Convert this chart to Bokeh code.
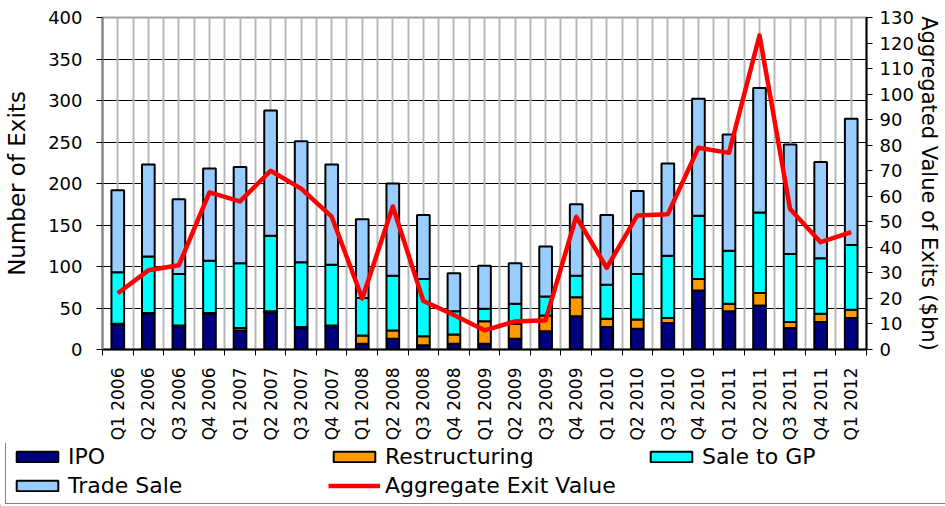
import math
from bokeh.plotting import figure
from bokeh.layouts import column
from bokeh.models import (ColumnDataSource, Range1d, LinearAxis, FixedTicker,
                          Legend, LegendItem, Grid)
from bokeh.embed import file_html
from bokeh.resources import INLINE

quarters = ["Q1 2006", "Q2 2006", "Q3 2006", "Q4 2006",
            "Q1 2007", "Q2 2007", "Q3 2007", "Q4 2007",
            "Q1 2008", "Q2 2008", "Q3 2008", "Q4 2008",
            "Q1 2009", "Q2 2009", "Q3 2009", "Q4 2009",
            "Q1 2010", "Q2 2010", "Q3 2010", "Q4 2010",
            "Q1 2011", "Q2 2011", "Q3 2011", "Q4 2011",
            "Q1 2012"]
ipo = [30, 43, 28, 43, 23, 45, 26, 28, 7, 13, 5, 7, 7, 13, 22, 40, 27, 25, 32, 71, 46, 53, 26, 33, 38]
restructuring = [1, 1, 1, 1, 3, 1, 1, 1, 10, 10, 11, 11, 27, 18, 19, 23, 10, 11, 6, 14, 9, 15, 7, 10, 10]
sale_to_gp = [62, 68, 62, 63, 78, 91, 78, 73, 45, 66, 69, 28, 15, 24, 23, 26, 41, 55, 75, 76, 64, 97, 82, 67, 78]
trade_sale = [99, 111, 90, 111, 116, 151, 146, 121, 95, 111, 77, 46, 52, 49, 60, 86, 84, 100, 111, 141, 140, 150, 132, 116, 152]
exit_value = [22, 31, 33, 61.5, 58, 70, 63, 52, 20, 56, 19, 13.5, 7.5, 11, 11.5, 52, 32, 52.5, 53, 79, 77, 123, 55, 42, 46]
left_ticks = [0, 50, 100, 150, 200, 250, 300, 350, 400]
right_ticks = [0, 10, 20, 30, 40, 50, 60, 70, 80, 90, 100, 110, 120, 130]
series_names = ["IPO", "Restructuring", "Sale to GP", "Trade Sale"]
series_colors = ["#000080", "#FF9900", "#00FFFF", "#99CCFF"]
line_name = "Aggregate Exit Value"
line_color = "#FF0000"

FONT = "DejaVu Sans"
n = len(quarters)
xs = list(range(1, n + 1))
src = ColumnDataSource(dict(x=xs, ipo=ipo, restructuring=restructuring,
                            sale_to_gp=sale_to_gp, trade_sale=trade_sale,
                            exit_value=exit_value))

p = figure(width=945, height=443, output_backend="svg", toolbar_location=None,
           x_range=Range1d(0.5, n + 0.5), y_range=Range1d(0, 400),
           x_axis_type=None, min_border_left=102, min_border_right=79,
           min_border_top=17, min_border_bottom=90)
p.background_fill_color = "white"
p.border_fill_color = "white"
p.outline_line_color = "#a0a0a0"
p.outline_line_width = 2

# x ticker: labels at centres, minor ticks at boundaries
xticker = FixedTicker(ticks=xs, minor_ticks=[i + 0.5 for i in range(0, n + 1)])
xgrid = Grid(dimension=0, ticker=xticker, grid_line_color="#b8b8b8", grid_line_width=2,
             minor_grid_line_color="#b8b8b8", minor_grid_line_width=2)
p.add_layout(xgrid)

# left axis
lticker = FixedTicker(ticks=left_ticks)
yax = p.yaxis[0]
yax.ticker = lticker
p.ygrid.ticker = lticker
p.ygrid.grid_line_color = "black"
p.ygrid.grid_line_width = 1
yax.axis_label = "Number of Exits"
yax.axis_label_text_font = FONT
yax.axis_label_text_font_size = "23px"
yax.axis_label_text_font_style = "normal"
yax.axis_label_text_color = "black"
yax.axis_label_standoff = 15
yax.major_label_text_font = FONT
yax.major_label_text_font_size = "18px"
yax.major_label_text_color = "black"
yax.major_label_standoff = 14
yax.axis_line_color = "#808080"
yax.axis_line_width = 2
yax.major_tick_out = 6
yax.major_tick_in = 0
yax.major_tick_line_color = "black"
yax.minor_tick_line_color = None

# bottom axis
xax = LinearAxis(ticker=xticker,
                 major_label_overrides={x: q for x, q in zip(xs, quarters)})
xax.major_label_orientation = math.pi / 2
xax.major_label_text_font = FONT
xax.major_label_text_font_size = "17px"
xax.major_label_text_color = "black"
xax.major_label_standoff = 12
xax.major_tick_out = 0
xax.major_tick_in = 0
xax.minor_tick_out = 6
xax.minor_tick_in = 0
xax.minor_tick_line_color = "black"
xax.axis_line_color = "black"
xax.axis_line_width = 2
p.add_layout(xax, "below")

# right axis
p.extra_y_ranges = {"val": Range1d(0, 130)}
rax = LinearAxis(y_range_name="val", ticker=FixedTicker(ticks=right_ticks),
                 axis_label="Aggregated Value of Exits ($bn)")
rax.axis_label_text_font = FONT
rax.axis_label_text_font_size = "21px"
rax.axis_label_text_font_style = "normal"
rax.axis_label_text_color = "black"
rax.axis_label_standoff = 0
rax.major_label_text_font = FONT
rax.major_label_text_font_size = "18px"
rax.major_label_text_color = "black"
rax.major_label_standoff = 7
rax.axis_line_color = "black"
rax.axis_line_width = 2
rax.major_tick_out = 6
rax.major_tick_in = 0
rax.major_tick_line_color = "black"
rax.minor_tick_line_color = None
p.add_layout(rax, "right")

bars = p.vbar_stack(["ipo", "restructuring", "sale_to_gp", "trade_sale"], x="x",
                    width=0.415, fill_color=series_colors, line_color="black",
                    line_width=2, source=src)
ln = p.line("x", "exit_value", y_range_name="val", line_color=line_color,
            line_width=4.5, line_join="round", source=src)

# legend in its own strip below the chart
lf = figure(width=945, height=63, output_backend="svg", toolbar_location=None,
            x_range=Range1d(0, 1), y_range=Range1d(0, 1),
            x_axis_type=None, y_axis_type=None, min_border=0,
            min_border_left=0, min_border_right=0, min_border_top=0,
            min_border_bottom=0)
lf.frame_align = False
lf.outline_line_color = None
lf.grid.visible = False
lf.background_fill_color = "white"
lf.border_fill_color = "white"
proxies = [lf.vbar(x=[-5], top=[0], width=0.1, fill_color=c, line_color="black",
                   line_width=2) for c in series_colors]
proxies.append(lf.line(x=[-5, -4], y=[0, 0], line_color=line_color, line_width=4.5))
labels = series_names + [line_name]
items = [LegendItem(label=nm, renderers=[r]) for nm, r in zip(labels, proxies)]
legend = Legend(items=items, location=(5, 2), orientation="horizontal", ncols=3,
                glyph_width=52, glyph_height=13, label_standoff=5, label_width=256,
                label_height=24, spacing=4, padding=5, margin=0,
                border_line_color="black", border_line_width=1.5,
                label_text_font=FONT, label_text_font_size="22px",
                label_text_color="black", background_fill_color="white",
                background_fill_alpha=1)
lf.add_layout(legend, "center")

page = column(p, lf, spacing=0)
open("out.html", "w").write(file_html(page, INLINE))
